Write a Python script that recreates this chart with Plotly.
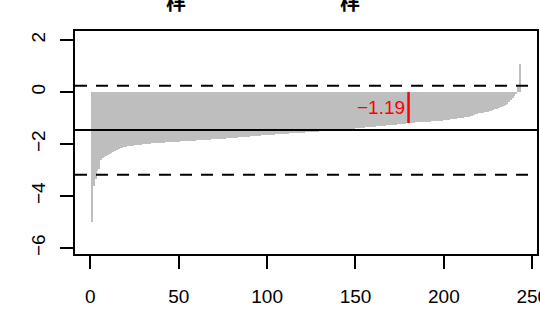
import plotly.graph_objects as go

# Sorted values (one bar per index)
values = [
    -4.99, -3.60, -3.35, -3.05, -2.95, -2.60, -2.55, -2.50, -2.45, -2.42,
    -2.38, -2.33, -2.29, -2.26, -2.23, -2.20, -2.17, -2.15, -2.12, -2.10,
    -2.09, -2.08, -2.07, -2.06, -2.05, -2.04, -2.03, -2.02, -2.02, -2.01,
    -2.00, -1.99, -1.99, -1.98, -1.97, -1.97, -1.96, -1.96, -1.95, -1.95,
    -1.94, -1.94, -1.93, -1.93, -1.93, -1.92, -1.92, -1.91, -1.91, -1.91,
    -1.90, -1.90, -1.89, -1.89, -1.88, -1.88, -1.87, -1.87, -1.87, -1.86,
    -1.86, -1.85, -1.85, -1.84, -1.84, -1.84, -1.83, -1.83, -1.82, -1.82,
    -1.81, -1.81, -1.80, -1.80, -1.79, -1.79, -1.78, -1.77, -1.77, -1.76,
    -1.76, -1.75, -1.75, -1.74, -1.74, -1.73, -1.73, -1.72, -1.72, -1.71,
    -1.70, -1.70, -1.69, -1.69, -1.68, -1.68, -1.67, -1.67, -1.66, -1.66,
    -1.65, -1.65, -1.64, -1.64, -1.63, -1.63, -1.62, -1.62, -1.61, -1.61,
    -1.60, -1.60, -1.59, -1.59, -1.58, -1.58, -1.57, -1.57, -1.56, -1.56,
    -1.56, -1.55, -1.55, -1.55, -1.54, -1.54, -1.53, -1.53, -1.52, -1.51,
    -1.51, -1.50, -1.50, -1.49, -1.49, -1.48, -1.48, -1.47, -1.46, -1.46,
    -1.45, -1.45, -1.44, -1.44, -1.43, -1.43, -1.42, -1.41, -1.41, -1.40,
    -1.39, -1.39, -1.38, -1.37, -1.37, -1.36, -1.35, -1.35, -1.34, -1.33,
    -1.33, -1.32, -1.31, -1.31, -1.30, -1.29, -1.29, -1.28, -1.27, -1.27,
    -1.26, -1.25, -1.25, -1.24, -1.23, -1.22, -1.22, -1.21, -1.20, -1.19,
    -1.19, -1.18, -1.18, -1.17, -1.17, -1.16, -1.16, -1.15, -1.15, -1.14,
    -1.14, -1.14, -1.13, -1.13, -1.12, -1.12, -1.12, -1.11, -1.10, -1.09,
    -1.08, -1.07, -1.06, -1.05, -1.04, -1.03, -1.02, -1.01, -1.00, -0.99,
    -0.98, -0.96, -0.95, -0.94, -0.92, -0.91, -0.88, -0.86, -0.84, -0.82,
    -0.81, -0.79, -0.78, -0.76, -0.75, -0.73, -0.71, -0.69, -0.66, -0.64,
    -0.62, -0.59, -0.56, -0.52, -0.48, -0.44, -0.38, -0.32, -0.22, -0.14,
    -0.05, 0.20, 1.08,
]
index = list(range(1, len(values) + 1))

mean_line = -1.46
upper_line = 0.24
lower_line = -3.18
highlight_index = 180
highlight_label = "\u22121.19"

x_ticks = [0, 50, 100, 150, 200, 250]
y_ticks = [-6, -4, -2, 0, 2]
y_tick_labels = ["\u22126", "\u22124", "\u22122", "0", "2"]
title_chars = ["样", "样"]

font_family = "Liberation Sans, Arial, sans-serif"

fig = go.Figure()
fig.add_trace(go.Bar(
    x=index, y=values, width=1.0,
    marker=dict(color="#BEBEBE", line=dict(width=0)),
    hoverinfo="skip", showlegend=False,
))

hv = values[highlight_index - 1]
shapes = [
    dict(type="line", xref="paper", x0=0, x1=1, yref="y", y0=upper_line, y1=upper_line,
         line=dict(color="black", width=2, dash="12px,9px")),
    dict(type="line", xref="paper", x0=0, x1=1, yref="y", y0=lower_line, y1=lower_line,
         line=dict(color="black", width=2, dash="12px,9px")),
    dict(type="line", xref="paper", x0=0, x1=1, yref="y", y0=mean_line, y1=mean_line,
         line=dict(color="black", width=2)),
    dict(type="line", xref="x", x0=highlight_index, x1=highlight_index, yref="y", y0=0, y1=hv,
         line=dict(color="#FF0000", width=2.5)),
]

plot_w = 462
plot_h = 223
annotations = [
    dict(x=highlight_index - 1, y=hv / 2, xref="x", yref="y", text=highlight_label,
         showarrow=False, xanchor="right", yanchor="middle",
         font=dict(color="#FF0000", size=19, family=font_family)),
    dict(x=(176 - 75) / plot_w, y=1 + (31 - 18) / plot_h, xref="paper", yref="paper",
         text="<b>" + title_chars[0] + "</b>", showarrow=False, xanchor="center",
         yanchor="bottom", font=dict(color="black", size=20, family="Noto Sans CJK SC")),
    dict(x=(350 - 75) / plot_w, y=1 + (31 - 18) / plot_h, xref="paper", yref="paper",
         text="<b>" + title_chars[1] + "</b>", showarrow=False, xanchor="center",
         yanchor="bottom", font=dict(color="black", size=20, family="Noto Sans CJK SC")),
]

fig.update_layout(
    width=540, height=320,
    margin=dict(l=75, r=3, t=31, b=66),
    paper_bgcolor="white", plot_bgcolor="white",
    bargap=0,
    shapes=shapes,
    annotations=annotations,
    font=dict(family=font_family, size=19, color="black"),
    xaxis=dict(range=[-8.68, 252.68], tickvals=x_ticks, ticks="outside", ticklen=13,
               tickwidth=1.5, tickcolor="black", showline=True, linecolor="black",
               linewidth=1.5, mirror=True, showgrid=False, zeroline=False,
               ticklabelstandoff=11, tickfont=dict(size=19), automargin=False,
               ticklabeloverflow="allow"),
    yaxis=dict(range=[-6.23, 2.35], tickvals=y_ticks, ticktext=y_tick_labels,
               ticks="outside", ticklen=13, tickwidth=1.5, tickcolor="black",
               showline=True, linecolor="black", linewidth=1.5, mirror=True,
               showgrid=False, zeroline=False, tickangle=-90,
               ticklabelstandoff=8, tickfont=dict(size=19), automargin=False),
)

fig.write_html(
    "out.html",
    config={"displayModeBar": False},
    post_script="document.body.style.margin='0';document.body.style.overflow='hidden';",
)
